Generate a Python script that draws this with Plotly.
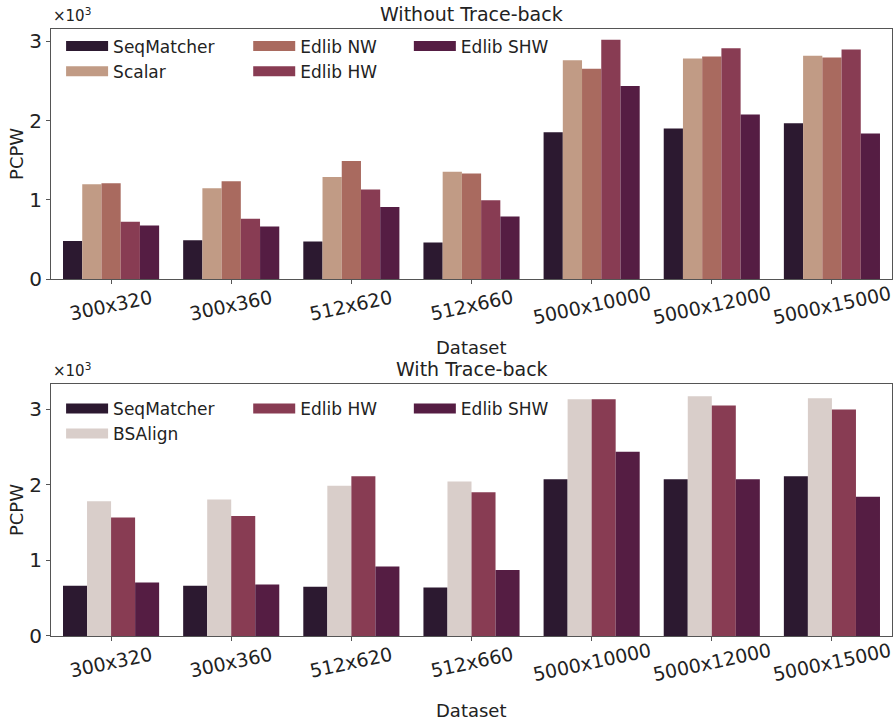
import plotly.graph_objects as go

# Datasets (query x reference lengths)
datasets = ["300x320", "300x360", "512x620", "512x660", "5000x10000", "5000x12000", "5000x15000"]

# PCPW without trace-back
seqmatcher_nt = [483, 492, 475, 463, 1855, 1901, 1967]
scalar_nt = [1198, 1149, 1289, 1355, 2764, 2785, 2818]
edlib_nw_nt = [1210, 1236, 1492, 1335, 2657, 2810, 2798]
edlib_hw_nt = [727, 764, 1132, 996, 3021, 2913, 2897]
edlib_shw_nt = [678, 665, 913, 793, 2438, 2079, 1839]

# PCPW with trace-back
seqmatcher_tb = [663, 663, 650, 642, 2072, 2072, 2111]
bsalign_tb = [1782, 1803, 1985, 2042, 3130, 3169, 3143]
edlib_hw_tb = [1565, 1587, 2111, 1899, 3130, 3047, 2995]
edlib_shw_tb = [707, 681, 919, 871, 2436, 2072, 1842]

y_ticks = [0, 1000, 2000, 3000]
y_ticktext = ["0", "1", "2", "3"]

colors = {
    "SeqMatcher": "#2c1930",
    "Scalar": "#c19b85",
    "Edlib NW": "#a96a5f",
    "Edlib HW": "#883c53",
    "Edlib SHW": "#551d43",
    "BSAlign": "#d9ceca",
}

FONT = "DejaVu Sans"
TXT = "#222222"
fig = go.Figure()

# (name, values, legend id) -- each legend id is one legend column
top_series = [
    ("SeqMatcher", seqmatcher_nt, "legend"),
    ("Scalar", scalar_nt, "legend"),
    ("Edlib NW", edlib_nw_nt, "legend3"),
    ("Edlib HW", edlib_hw_nt, "legend3"),
    ("Edlib SHW", edlib_shw_nt, "legend4"),
]
bottom_series = [
    ("SeqMatcher", seqmatcher_tb, "legend2"),
    ("BSAlign", bsalign_tb, "legend2"),
    ("Edlib HW", edlib_hw_tb, "legend5"),
    ("Edlib SHW", edlib_shw_tb, "legend6"),
]

for series, xa, ya in ((top_series, "x", "y"), (bottom_series, "x2", "y2")):
    for name, vals, leg in series:
        fig.add_trace(go.Bar(
            x=datasets, y=vals, name=name, marker_color=colors[name],
            marker_line_width=0, showlegend=False, xaxis=xa, yaxis=ya,
        ))
    # legend swatches: thick line keys give wide rectangular patches
    for name, vals, leg in series:
        fig.add_trace(go.Scatter(
            x=[None], y=[None], mode="lines", name=name,
            line=dict(color=colors[name], width=11),
            legend=leg, legendgroup=xa + name, xaxis=xa, yaxis=ya,
            hoverinfo="skip",
        ))

axis_common = dict(
    showline=True, linecolor="#555555", linewidth=1, mirror=True,
    ticks="outside", ticklen=4, tickcolor="#555555", showgrid=False,
    zeroline=False,
)
xaxis_common = dict(axis_common, showticklabels=False, range=[-0.5, 6.5])
yaxis_common = dict(axis_common, tickvals=y_ticks, ticktext=y_ticktext,
                    tickfont=dict(size=20, family=FONT, color=TXT),
                    title=dict(text="PCPW", font=dict(size=18, family=FONT, color=TXT), standoff=0))

top_dom = [1 - 284 / 720, 1 - 29 / 720]
bot_dom = [1 - 646.7 / 720, 1 - 390.7 / 720]


def legend_box(x, y):
    return dict(
        orientation="v", xanchor="left", yanchor="top", x=x, y=y,
        bgcolor="rgba(0,0,0,0)", font=dict(size=17, family=FONT, color=TXT),
        traceorder="grouped", tracegroupgap=0, itemwidth=42,
    )


col_x = [0.012, 0.2345, 0.4255]
top_y = 1 - 29 / 720
bot_y = 1 - 397.5 / 720

annotations = []
for dom, title, xref, yref, dshift in ((top_dom, "Without Trace-back", "x", "y", -68),
                                       (bot_dom, "With Trace-back", "x2", "y2", -75)):
    annotations.append(dict(text=title, x=0.5, y=dom[1], xref="paper", yref="paper",
                            xanchor="center", yanchor="bottom", yshift=2, showarrow=False,
                            font=dict(size=19, family=FONT, color=TXT)))
    annotations.append(dict(text="×10<sup>3</sup>", x=0, y=dom[1], xref="paper", yref="paper",
                            xanchor="left", yanchor="bottom", yshift=2, showarrow=False,
                            font=dict(size=15, family=FONT, color=TXT)))
    annotations.append(dict(text="Dataset", x=0.5, y=dom[0], xref="paper", yref="paper",
                            xanchor="center", yanchor="middle", yshift=dshift, showarrow=False,
                            font=dict(size=18, family=FONT, color=TXT)))
    # rotated category labels, centred under each tick
    for cat in datasets:
        annotations.append(dict(text=cat, x=cat, y=0, xref=xref, yref=yref + " domain",
                                xanchor="center", yanchor="middle", yshift=-26,
                                textangle=-12, showarrow=False,
                                font=dict(size=19, family=FONT, color=TXT)))

fig.update_layout(
    width=895, height=720,
    margin=dict(l=51, r=3, t=0, b=0),
    paper_bgcolor="white", plot_bgcolor="white",
    barmode="group", bargap=0.2, bargroupgap=0,
    font=dict(family=FONT),
    xaxis=dict(xaxis_common, domain=[0, 1], anchor="y"),
    yaxis=dict(yaxis_common, domain=top_dom, range=[0, 3163], anchor="x"),
    xaxis2=dict(xaxis_common, domain=[0, 1], anchor="y2"),
    yaxis2=dict(yaxis_common, domain=bot_dom, range=[0, 3330], anchor="x2"),
    legend=legend_box(col_x[0], top_y),
    legend3=legend_box(col_x[1], top_y),
    legend4=legend_box(col_x[2], top_y),
    legend2=legend_box(col_x[0], bot_y),
    legend5=legend_box(col_x[1], bot_y),
    legend6=legend_box(col_x[2], bot_y),
    annotations=annotations,
)

fig.write_html("out.html")
